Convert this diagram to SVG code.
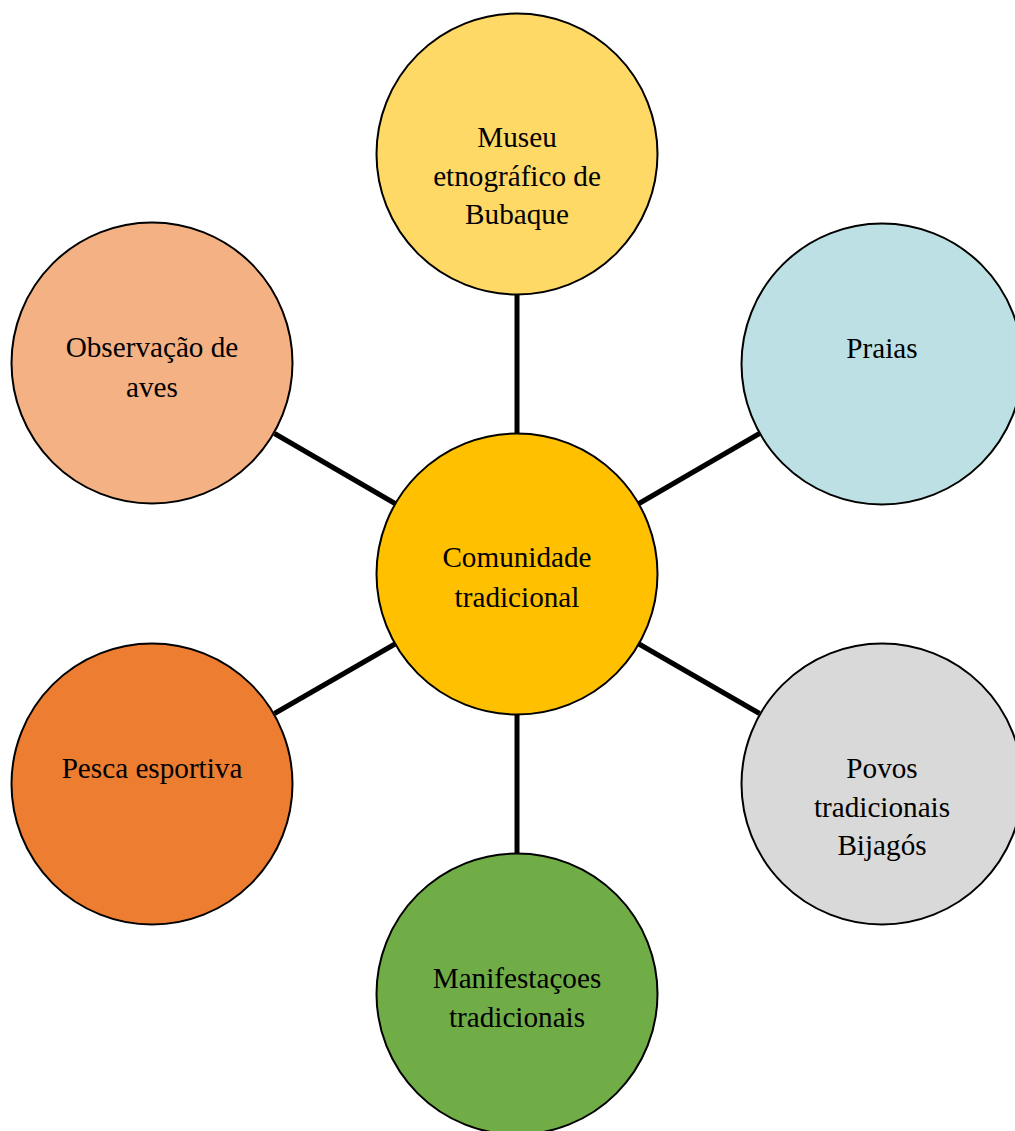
<svg xmlns="http://www.w3.org/2000/svg" width="1015" height="1131" viewBox="0 0 1015 1131">
<style>
.node circle{stroke:#000;stroke-width:2}
.node text{font-family:"Liberation Serif","Times New Roman",serif;font-size:29.2px;fill:#000;text-anchor:middle}
#connectors line{stroke:#000;stroke-width:5}
</style>
<rect width="1015" height="1131" fill="#fff"/>
<g id="connectors">
<line x1="517" y1="295" x2="517" y2="434"/>
<line x1="517" y1="715" x2="517" y2="854"/>
<line x1="274.5" y1="433.5" x2="395" y2="503.5"/>
<line x1="759.5" y1="433.5" x2="639" y2="503.5"/>
<line x1="274.5" y1="713.5" x2="395" y2="644"/>
<line x1="759.5" y1="713.5" x2="639" y2="644"/>
</g>
<g id="node-center" class="node">
<circle cx="517" cy="574" r="140.5" fill="#FFC000"/>
<text x="517" y="567">Comunidade</text>
<text x="517" y="606.5">tradicional</text>
</g>
<g id="node-museu" class="node">
<circle cx="517" cy="154" r="140.5" fill="#FFD966"/>
<text x="517" y="147">Museu</text>
<text x="517" y="185.5">etnográfico de</text>
<text x="517" y="224">Bubaque</text>
</g>
<g id="node-praias" class="node">
<circle cx="882" cy="364" r="140.5" fill="#BDE0E4"/>
<text x="882" y="358">Praias</text>
</g>
<g id="node-povos" class="node">
<circle cx="882" cy="784" r="140.5" fill="#D9D9D9"/>
<text x="882" y="778">Povos</text>
<text x="882" y="816.5">tradicionais</text>
<text x="882" y="855">Bijagós</text>
</g>
<g id="node-manifestacoes" class="node">
<circle cx="517" cy="994" r="140.5" fill="#70AD47"/>
<text x="517" y="988">Manifestaçoes</text>
<text x="517" y="1027">tradicionais</text>
</g>
<g id="node-pesca" class="node">
<circle cx="152" cy="784" r="140.5" fill="#ED7D31"/>
<text x="152" y="778">Pesca esportiva</text>
</g>
<g id="node-aves" class="node">
<circle cx="152" cy="363" r="140.5" fill="#F4B183"/>
<text x="152" y="357">Observação de</text>
<text x="152" y="396.5">aves</text>
</g>
</svg>
